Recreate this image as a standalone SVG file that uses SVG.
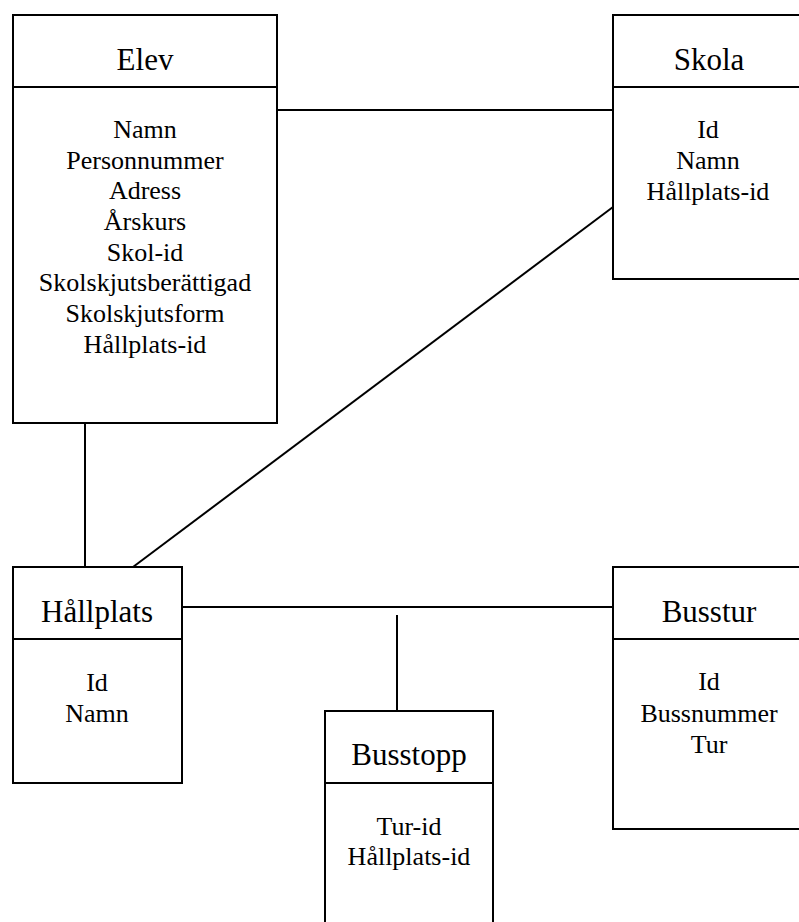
<svg xmlns="http://www.w3.org/2000/svg" width="799" height="922" viewBox="0 0 799 922">
<style>
.box{fill:#fff;stroke:#000;stroke-width:2}
.ln{stroke:#000;stroke-width:2;fill:none}
.t{font-family:"Liberation Serif","Times New Roman",serif;font-size:31px;text-anchor:middle;fill:#000}
.b{font-family:"Liberation Serif","Times New Roman",serif;font-size:26px;text-anchor:middle;fill:#000}
</style>
<rect width="799" height="922" fill="#fff"/>
<g id="connectors">
<line class="ln" x1="277" y1="110" x2="613" y2="110"/>
<line class="ln" x1="613" y1="207" x2="133" y2="567"/>
<line class="ln" x1="85" y1="423" x2="85" y2="567"/>
<line class="ln" x1="182" y1="607" x2="613" y2="607"/>
<line class="ln" x1="397" y1="615" x2="397" y2="711"/>
</g>
<g id="elev">
<rect class="box" x="13" y="15" width="264" height="408"/>
<line class="ln" x1="13" y1="87" x2="277" y2="87"/>
<text class="t" x="145" y="70">Elev</text>
<text class="b" x="145" y="138">Namn</text>
<text class="b" x="145" y="169">Personnummer</text>
<text class="b" x="145" y="199">Adress</text>
<text class="b" x="145" y="230">Årskurs</text>
<text class="b" x="145" y="261">Skol-id</text>
<text class="b" x="145" y="291">Skolskjutsberättigad</text>
<text class="b" x="145" y="322">Skolskjutsform</text>
<text class="b" x="145" y="353">Hållplats-id</text>
</g>
<g id="skola">
<rect class="box" x="613" y="15" width="193" height="264"/>
<line class="ln" x1="613" y1="87" x2="806" y2="87"/>
<text class="t" x="709" y="70">Skola</text>
<text class="b" x="708" y="138">Id</text>
<text class="b" x="708" y="169">Namn</text>
<text class="b" x="708" y="200">Hållplats-id</text>
</g>
<g id="hallplats">
<rect class="box" x="13" y="567" width="169" height="216"/>
<line class="ln" x1="13" y1="639" x2="182" y2="639"/>
<text class="t" x="97" y="622">Hållplats</text>
<text class="b" x="97" y="691">Id</text>
<text class="b" x="97" y="722">Namn</text>
</g>
<g id="busstopp">
<rect class="box" x="325" y="711" width="168" height="230"/>
<line class="ln" x1="325" y1="783" x2="493" y2="783"/>
<text class="t" x="409" y="765">Busstopp</text>
<text class="b" x="409" y="835">Tur-id</text>
<text class="b" x="409" y="865">Hållplats-id</text>
</g>
<g id="busstur">
<rect class="box" x="613" y="567" width="193" height="262"/>
<line class="ln" x1="613" y1="639" x2="806" y2="639"/>
<text class="t" x="709" y="622">Busstur</text>
<text class="b" x="709" y="690">Id</text>
<text class="b" x="709" y="722">Bussnummer</text>
<text class="b" x="709" y="753">Tur</text>
</g>
</svg>
